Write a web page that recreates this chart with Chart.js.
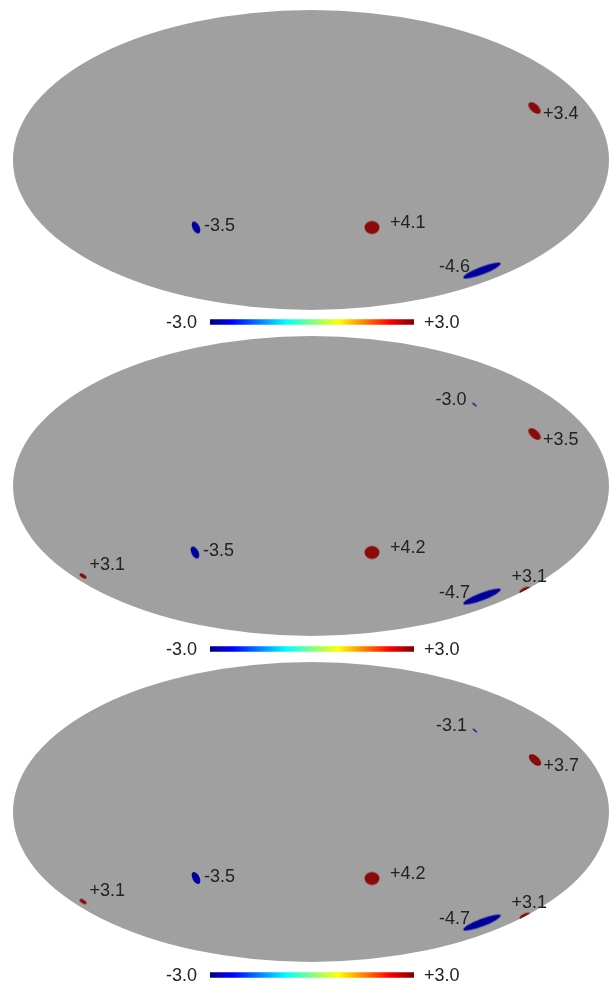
<!DOCTYPE html>
<html>
<head>
<meta charset="utf-8">
<title>Sky maps</title>
<script src="https://cdn.jsdelivr.net/npm/chart.js@4"></script>
<style>
    html, body { margin: 0; padding: 0; background: #fff; overflow: hidden; }
    #page { position: relative; width: 609px; height: 983px; }
    canvas { position: absolute; left: 0; filter: blur(0.35px); }
</style>
</head>
<body>
<div id="page"></div>
<script>
// spot centres in Mollweide map units (x -2..2, y -1..1) and their peak values
const panel1X = [1.50, 1.148, -0.772, 0.409];
const panel1Y = [0.347, -0.737, -0.45, -0.45];
const panel1Values = [3.4, -4.6, -3.5, 4.1];
const panel1Kinds = ['north', 'long', 'cold', 'round'];

const panel2X = [1.097, 1.50, -0.779, 0.409, -1.53, 1.436, 1.148];
const panel2Y = [0.543, 0.347, -0.443, -0.443, -0.60, -0.697, -0.737];
const panel2Values = [-3.0, 3.5, -3.5, 4.2, 3.1, 3.1, -4.7];
const panel2Kinds = ['tiny', 'north', 'cold', 'round', 'west', 'edge', 'long'];

const panel3X = [1.10, 1.503, -1.53, -0.772, 0.409, 1.436, 1.148];
const panel3Y = [0.543, 0.347, -0.597, -0.44, -0.443, -0.697, -0.737];
const panel3Values = [-3.1, 3.7, 3.1, -3.5, 4.2, 3.1, -4.7];
const panel3Kinds = ['tiny', 'north', 'west', 'cold', 'round', 'edge', 'long'];

const colorbarMin = -3.0;
const colorbarMax = 3.0;
const jetStops = [0, 0.11, 0.375, 0.63, 0.88, 1];
const jetColors = ['#00007f', '#0000ff', '#00ffff', '#ffff00', '#ff0000', '#7f0000'];

// styling of each kind of spot: ellipse lengths, tilt in degrees, label offset in px
const spotStyles = {
    north: { major: 15, minor: 8, angle: 42, dx: 8.5, dy: 6.5 },
    long: { major: 40, minor: 7.5, angle: -21, dx: -43, dy: -3.5 },
    cold: { major: 13, minor: 7, angle: 62, dx: 8, dy: -1 },
    round: { major: 15, minor: 13, angle: 0, dx: 18, dy: -4.5 },
    tiny: { major: 6, minor: 1.5, angle: 40, dx: -39, dy: -5 },
    west: { major: 8, minor: 3.5, angle: 32, dx: 6.5, dy: -10.5 },
    edge: { major: 12, minor: 6, angle: -24, dx: -13.5, dy: -14 }
};

const GREY = '#a0a0a0';
const HOT = '#8b0a0a';
const COLD = '#00009c';
const TEXT = '#222222';
const FONT = '18px "Liberation Sans", Arial, sans-serif';

const panels = [
    { top: 0, xs: panel1X, ys: panel1Y, values: panel1Values, kinds: panel1Kinds, barTop: 310 },
    { top: 326, xs: panel2X, ys: panel2Y, values: panel2Values, kinds: panel2Kinds, barTop: 637 },
    { top: 652, xs: panel3X, ys: panel3Y, values: panel3Values, kinds: panel3Kinds, barTop: 963 }
];

function addCanvas(top, height) {
    const canvas = document.createElement('canvas');
    canvas.width = 609;
    canvas.height = height;
    canvas.style.top = top + 'px';
    canvas.style.width = '609px';
    canvas.style.height = height + 'px';
    document.getElementById('page').appendChild(canvas);
    return canvas;
}

function spotGlyph(kind, value) {
    const style = spotStyles[kind];
    const glyph = document.createElement('canvas');
    glyph.width = glyph.height = 48;
    const ctx = glyph.getContext('2d');
    ctx.fillStyle = value > 0 ? HOT : COLD;
    ctx.translate(24, 24);
    ctx.rotate(style.angle * Math.PI / 180);
    ctx.beginPath();
    ctx.ellipse(0, 0, style.major / 2, style.minor / 2, 0, 0, Math.PI * 2);
    ctx.fill();
    return glyph;
}

function discPath(chart) {
    const { ctx, scales: { x, y } } = chart;
    const cx = x.getPixelForValue(0);
    const cy = y.getPixelForValue(0);
    ctx.beginPath();
    ctx.ellipse(cx, cy, x.getPixelForValue(2) - cx, cy - y.getPixelForValue(1), 0, 0, Math.PI * 2);
}

// grey map disc behind the spots, spots get cut off at its rim
const mapDisc = {
    id: 'mapDisc',
    beforeDatasetsDraw(chart) {
        const { ctx } = chart;
        ctx.save();
        ctx.fillStyle = GREY;
        discPath(chart);
        ctx.fill();
        ctx.restore();
    },
    beforeDatasetDraw(chart) {
        chart.ctx.save();
        discPath(chart);
        chart.ctx.clip();
    },
    afterDatasetDraw(chart) {
        chart.ctx.restore();
    }
};

const spotLabels = {
    id: 'spotLabels',
    afterDatasetsDraw(chart) {
        const { ctx } = chart;
        const panel = chart.options.plugins.spotLabels.panel;
        ctx.save();
        ctx.font = FONT;
        ctx.fillStyle = TEXT;
        ctx.textBaseline = 'middle';
        chart.getDatasetMeta(0).data.forEach((point, i) => {
            const value = panel.values[i];
            const style = spotStyles[panel.kinds[i]];
            const text = (value > 0 ? '+' : '') + value.toFixed(1);
            ctx.fillText(text, point.x + style.dx, point.y + style.dy);
        });
        ctx.restore();
    }
};

const barLabels = {
    id: 'barLabels',
    afterDatasetsDraw(chart) {
        const { ctx, scales: { x, y } } = chart;
        const cy = y.getPixelForValue(0) + 1;
        ctx.save();
        ctx.font = FONT;
        ctx.fillStyle = TEXT;
        ctx.textBaseline = 'middle';
        ctx.textAlign = 'right';
        ctx.fillText(colorbarMin.toFixed(1), x.getPixelForValue(colorbarMin) - 13, cy);
        ctx.textAlign = 'left';
        ctx.fillText('+' + colorbarMax.toFixed(1), x.getPixelForValue(colorbarMax) + 10, cy);
        ctx.restore();
    }
};

function jetGradient(context) {
    const area = context.chart.chartArea;
    if (!area) return jetColors[0];
    const gradient = context.chart.ctx.createLinearGradient(area.left, 0, area.right, 0);
    jetStops.forEach((stop, i) => gradient.addColorStop(stop, jetColors[i]));
    return gradient;
}

panels.forEach(panel => {
    new Chart(addCanvas(panel.top, 326), {
        type: 'scatter',
        plugins: [mapDisc, spotLabels],
        data: {
            datasets: [{
                data: panel.xs.map((x, i) => ({ x: x, y: panel.ys[i] })),
                pointStyle: panel.kinds.map((kind, i) => spotGlyph(kind, panel.values[i])),
                pointRadius: 24,
                clip: false
            }]
        },
        options: {
            responsive: false,
            animation: false,
            layout: { padding: 0, autoPadding: false },
            plugins: { legend: { display: false }, tooltip: { enabled: false }, spotLabels: { panel: panel } },
            scales: {
                x: { type: 'linear', display: false, min: -311 / 149, max: 298 / 149 },
                y: { type: 'linear', display: false, min: -166 / 150, max: 160 / 150 }
            }
        }
    });

    new Chart(addCanvas(panel.barTop, 24), {
        type: 'bar',
        plugins: [barLabels],
        data: {
            labels: ['scale'],
            datasets: [{
                data: [[colorbarMin, colorbarMax]],
                backgroundColor: jetGradient,
                barThickness: 5,
                borderWidth: 0
            }]
        },
        options: {
            indexAxis: 'y',
            responsive: false,
            animation: false,
            layout: { padding: { left: 210, right: 195 }, autoPadding: false },
            plugins: { legend: { display: false }, tooltip: { enabled: false } },
            scales: {
                x: { type: 'linear', display: false, min: colorbarMin, max: colorbarMax },
                y: { display: false }
            }
        }
    });
});
</script>
</body>
</html>
